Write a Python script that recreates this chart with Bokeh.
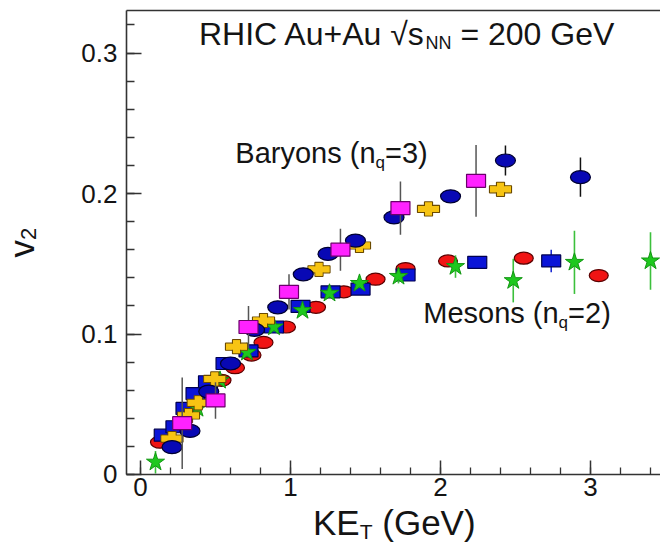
import numpy as np
from bokeh.plotting import figure
from bokeh.models import (Range1d, Label, LinearAxis, SingleIntervalTicker, FixedTicker,
                          ColumnDataSource, Grid)
from bokeh.embed import file_html
from bokeh.resources import INLINE

# ---------------- data ----------------
# Mesons
pion_x = [0.13, 0.54, 0.63, 0.74, 0.82, 0.97, 1.17, 1.355, 1.567, 1.767, 2.05, 2.555, 3.055]
pion_y = [0.023, 0.067, 0.076, 0.085, 0.094, 0.105, 0.119, 0.130, 0.139, 0.1466, 0.152, 0.154, 0.1416]
pion_e = [0.001, 0.001, 0.001, 0.001, 0.001, 0.001, 0.001, 0.001, 0.001, 0.001, 0.002, 0.003, 0.004]

k0s_x = [0.155, 0.233, 0.30, 0.367, 0.45, 0.567, 0.72, 0.89, 1.067, 1.267, 1.467, 1.767, 2.245, 2.738]
k0s_y = [0.028, 0.034, 0.047, 0.0576, 0.066, 0.079, 0.088, 0.105, 0.1196, 0.130, 0.132, 0.142, 0.151, 0.152]
k0s_e = [0.001, 0.001, 0.001, 0.001, 0.001, 0.001, 0.001, 0.001, 0.001, 0.001, 0.001, 0.002, 0.003, 0.008]

phi_x = [0.10, 0.38, 0.53, 0.71, 0.89, 1.08, 1.26, 1.46, 1.72, 2.10, 2.485, 2.893, 3.40]
phi_y = [0.0088, 0.047, 0.067, 0.087, 0.105, 0.1167, 0.129, 0.136, 0.141, 0.148, 0.138, 0.151, 0.152]
phi_e = [0.008, 0.003, 0.003, 0.003, 0.003, 0.003, 0.003, 0.003, 0.005, 0.008, 0.0155, 0.0225, 0.0205]

# Baryons
lam_x = [0.21, 0.32, 0.385, 0.495, 0.64, 0.82, 1.19, 1.46, 1.92, 2.40]
lam_y = [0.0256, 0.042, 0.051, 0.068, 0.091, 0.1096, 0.146, 0.163, 0.189, 0.203]

prot_x = [0.21, 0.33, 0.455, 0.60, 0.76, 0.915, 1.085, 1.25, 1.433, 1.69, 2.067, 2.433, 2.933]
prot_y = [0.0195, 0.031, 0.059, 0.079, 0.103, 0.119, 0.1425, 0.157, 0.1665, 0.183, 0.198, 0.2235, 0.2116]
prot_e = [0.001, 0.001, 0.001, 0.001, 0.001, 0.001, 0.001, 0.001, 0.004, 0.002, 0.004, 0.0107, 0.014]

xi_x = [0.278, 0.50, 0.72, 0.99, 1.333, 1.733, 2.237]
xi_y = [0.0365, 0.0527, 0.105, 0.130, 0.160, 0.1896, 0.209]
xi_e = [0.0325, 0.013, 0.015, 0.0125, 0.015, 0.019, 0.0255]

x_ticks = [0, 1, 2, 3]
y_ticks = [0, 0.1, 0.2, 0.3]

FONT = "Liberation Sans"
INK = "#141414"
AX = "#333333"

X0, X1 = -0.0933, 3.4667   # plot box in data units
Y0, Y1 = 0.0, 0.33

p = figure(width=660, height=545,
           x_range=Range1d(-0.93333, 3.46667), y_range=Range1d(-0.050534, 0.337367),
           output_backend="svg", toolbar_location=None,
           x_axis_location=None, y_axis_location=None,
           min_border_left=0, min_border_right=0, min_border_top=0, min_border_bottom=0)
p.background_fill_color = "white"
p.border_fill_color = "white"
p.outline_line_color = None
p.center = [r for r in p.center if not isinstance(r, Grid)]


def style_axis(ax, maj, mino, standoff):
    ax.axis_line_color = AX
    ax.axis_line_width = 1.6
    ax.major_tick_line_color = AX
    ax.minor_tick_line_color = AX
    ax.major_tick_line_width = 1.5
    ax.minor_tick_line_width = 1.3
    ax.major_tick_in = maj
    ax.major_tick_out = 0
    ax.minor_tick_in = mino
    ax.minor_tick_out = 0
    ax.major_label_text_font = FONT
    ax.major_label_text_font_size = "26px"
    ax.major_label_text_color = INK
    ax.major_label_standoff = standoff


xa = LinearAxis(fixed_location=Y0, bounds=(X0, X1),
                ticker=SingleIntervalTicker(interval=1, num_minor_ticks=5))
style_axis(xa, 14, 7, 4)
p.add_layout(xa, "below")

ya = LinearAxis(fixed_location=X0, bounds=(Y0, Y1),
                ticker=SingleIntervalTicker(interval=0.1, num_minor_ticks=5))
ya.major_label_overrides = {0: "0", 0.1: "0.1", 0.2: "0.2", 0.3: "0.3"}
style_axis(ya, 15, 8, 9)
p.add_layout(ya, "left")

top = LinearAxis(fixed_location=Y1, bounds=(X0, X1),
                 ticker=FixedTicker(ticks=[], minor_ticks=[]), major_tick_in=0, major_tick_out=0,
                 minor_tick_in=0, minor_tick_out=0, major_label_text_font_size="0px",
                 major_label_standoff=0, axis_line_color=AX, axis_line_width=1.6)
p.add_layout(top, "above")


def src(x, y, e=None):
    x = np.asarray(x, float)
    y = np.asarray(y, float)
    d = dict(x=x, y=y)
    if e is not None:
        e = np.asarray(e, float)
        d["lo"] = y - e
        d["hi"] = y + e
    return ColumnDataSource(d)


# pions: red ellipses
s = src(pion_x, pion_y, pion_e)
p.segment(x0="x", y0="lo", x1="x", y1="hi", source=s, line_color="#7a0000", line_width=1.5)
p.ellipse(x="x", y="y", width=19, height=12, width_units="screen", height_units="screen",
          source=s, fill_color="#f01414", line_color="#5a0000", line_width=1.2)

# K0s: blue rectangles
s = src(k0s_x, k0s_y, k0s_e)
p.segment(x0="x", y0="lo", x1="x", y1="hi", source=s, line_color="#1020d0", line_width=1.5)
p.rect(x="x", y="y", width=19, height=12, width_units="screen", height_units="screen",
       source=s, fill_color="#0a14d8", line_color="#000050", line_width=1.2)

# phi: green stars
s = src(phi_x, phi_y, phi_e)
p.segment(x0="x", y0="lo", x1="x", y1="hi", source=s, line_color="#3cc03c", line_width=1.6)
p.scatter(x="x", y="y", marker="star", size=19, source=s, fill_color="#1ec81e",
          line_color="#129612", line_width=1.0)

# Lambda: yellow crosses
s = src(lam_x, lam_y)
for w, h in [(22, 7), (8, 14)]:
    p.rect(x="x", y="y", width=w, height=h, width_units="screen", height_units="screen",
           source=s, fill_color="#f7c413", line_color="#6b4a00", line_width=1.2)
for w, h in [(21, 6), (7, 13)]:
    p.rect(x="x", y="y", width=w, height=h, width_units="screen", height_units="screen",
           source=s, fill_color="#f7c413", line_color=None)

# protons: blue ellipses
s = src(prot_x, prot_y, prot_e)
p.segment(x0="x", y0="lo", x1="x", y1="hi", source=s, line_color="#111111", line_width=1.5)
p.ellipse(x="x", y="y", width=20, height=13, width_units="screen", height_units="screen",
          source=s, fill_color="#0808b4", line_color="#000030", line_width=1.2)

# Xi: magenta rectangles
s = src(xi_x, xi_y, xi_e)
p.segment(x0="x", y0="lo", x1="x", y1="hi", source=s, line_color="#555555", line_width=1.5)
p.rect(x="x", y="y", width=19, height=13, width_units="screen", height_units="screen",
       source=s, fill_color="#ff22ff", line_color="#6a006a", line_width=1.2)

# ---------------- texts ----------------
W = {'R': 722, 'H': 722, 'I': 278, 'C': 722, ' ': 278, 'A': 667, 'u': 556, '+': 584, '√': 549,
     's': 500, 'N': 722, '=': 584, '2': 556, '0': 556, 'G': 778, 'e': 556, 'V': 667, 'B': 667,
     'a': 556, 'r': 333, 'y': 500, 'o': 556, 'n': 556, '(': 333, ')': 333, 'q': 556, '3': 556,
     'M': 833, 'K': 667, 'E': 667, 'T': 611, 'v': 500}
MID = 0.35   # the label is anchored near its middle; lift it so the baseline sits on y


def tw(t, size):
    return sum(W.get(c, 556) for c in t) * size / 1000.0


def add_text(x, y, pieces):
    off = 0.0
    for t, size, dy in pieces:
        lead = len(t) - len(t.lstrip(" "))
        off += tw(" " * lead, size)
        body = t.strip(" ")
        p.add_layout(Label(x=x, y=y, x_offset=off, y_offset=dy + MID * size, text=body,
                           text_font=FONT, text_font_size=f"{size}px", text_color=INK,
                           text_align="left", text_baseline="alphabetic"))
        off += tw(body, size)


add_text(0.39, 0.3053, [("RHIC Au+Au √s", 32, 0), ("NN", 18, -4), (" = 200 GeV", 32, 0)])
add_text(0.632, 0.2214, [("Baryons (n", 29, 0), ("q", 17, -5), ("=3)", 29, 0)])
add_text(1.885, 0.1075, [("Mesons (n", 29, 0), ("q", 17, -5), ("=2)", 29, 0)])
add_text(1.15, -0.0430, [("KE", 35, 0), ("T", 21, -4), (" (GeV)", 35, 0)])

# rotated v2 (reads bottom to top)
p.add_layout(Label(x=-0.713, y=0.1544, x_offset=-MID * 35, text="v", angle=np.pi / 2,
                   text_font=FONT, text_font_size="35px", text_color=INK, text_align="left",
                   text_baseline="alphabetic"))
p.add_layout(Label(x=-0.713, y=0.1544, x_offset=3 - MID * 22, y_offset=tw("v", 35), text="2",
                   angle=np.pi / 2, text_font=FONT, text_font_size="22px", text_color=INK,
                   text_align="left", text_baseline="alphabetic"))

open("out.html", "w").write(file_html(p, INLINE))
